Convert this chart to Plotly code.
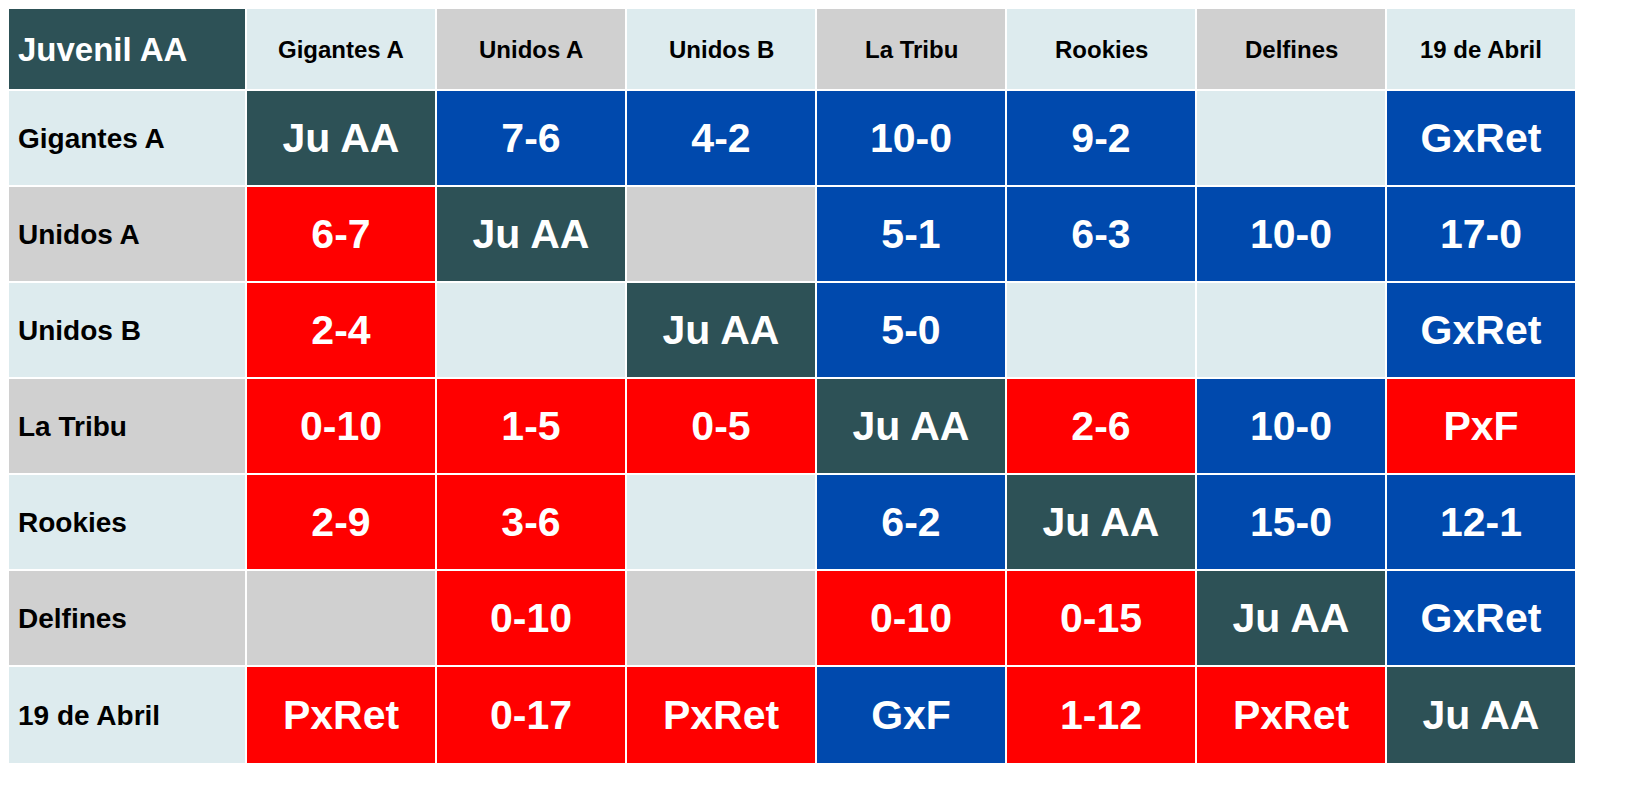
import plotly.graph_objects as go

title = "Juvenil AA"
teams = ["Gigantes A", "Unidos A", "Unidos B", "La Tribu", "Rookies", "Delfines", "19 de Abril"]
results = [
    ["Ju AA", "7-6", "4-2", "10-0", "9-2", "", "GxRet"],
    ["6-7", "Ju AA", "", "5-1", "6-3", "10-0", "17-0"],
    ["2-4", "", "Ju AA", "5-0", "", "", "GxRet"],
    ["0-10", "1-5", "0-5", "Ju AA", "2-6", "10-0", "PxF"],
    ["2-9", "3-6", "", "6-2", "Ju AA", "15-0", "12-1"],
    ["", "0-10", "", "0-10", "0-15", "Ju AA", "GxRet"],
    ["PxRet", "0-17", "PxRet", "GxF", "1-12", "PxRet", "Ju AA"],
]

TEAL, BLUE, RED = "#2d5156", "#0049ad", "#ff0000"
LIGHT, GRAY = "#ddebee", "#d0d0d0"
# category codes: 0 light, 1 gray, 2 teal, 3 blue, 4 red
colorscale = [[0, LIGHT], [0.125, LIGHT], [0.125, GRAY], [0.375, GRAY],
              [0.375, TEAL], [0.625, TEAL], [0.625, BLUE], [0.875, BLUE],
              [0.875, RED], [1, RED]]

def band(i):
    return i % 2

def code(i, v):
    if v == "":
        return band(i)
    if v == "Ju AA":
        return 2
    if v.startswith("G"):
        return 3
    if v.startswith("P"):
        return 4
    a, b = v.split("-")
    return 3 if int(a) > int(b) else 4

# cell edges in pixel units
x_edges = [0, 238, 428, 618, 808, 998, 1188, 1378, 1568]
y_edges = [0, 82, 178, 274, 370, 466, 562, 658, 756]

n = len(teams)
z = [[2] + [band(j) for j in range(n)]]
txt = [[""] * (n + 1)]
for i in range(n):
    z.append([band(i)] + [code(i, results[i][j]) for j in range(n)])
    txt.append([""] + [results[i][j] for j in range(n)])

fig = go.Figure(go.Heatmap(
    x=x_edges, y=y_edges, z=z, text=txt, texttemplate="<b>%{text}</b>",
    textfont=dict(family="Liberation Sans, Arial", size=41, color="white"),
    colorscale=colorscale, zmin=0, zmax=4, showscale=False,
    xgap=2, ygap=2, hoverinfo="skip",
))

ann = [dict(x=x_edges[0] + 8, y=(y_edges[0] + y_edges[1]) / 2, text="<b>" + title + "</b>",
            xanchor="left", showarrow=False,
            font=dict(family="Liberation Sans, Arial", size=33, color="white"))]
for j, t in enumerate(teams):
    ann.append(dict(x=(x_edges[j + 1] + x_edges[j + 2]) / 2, y=(y_edges[0] + y_edges[1]) / 2,
                    text="<b>" + t + "</b>", showarrow=False,
                    font=dict(family="Liberation Sans, Arial", size=24, color="black")))
    ann.append(dict(x=x_edges[0] + 8, y=(y_edges[j + 1] + y_edges[j + 2]) / 2,
                    text="<b>" + t + "</b>", xanchor="left", showarrow=False,
                    font=dict(family="Liberation Sans, Arial", size=28, color="black")))

fig.update_layout(width=1628, height=786, margin=dict(l=0, r=0, t=0, b=0),
                  paper_bgcolor="white", plot_bgcolor="white", annotations=ann,
                  xaxis=dict(range=[0, 1628], visible=False, fixedrange=True),
                  yaxis=dict(range=[786, 0], visible=False, fixedrange=True))
fig.write_html("out.html")
